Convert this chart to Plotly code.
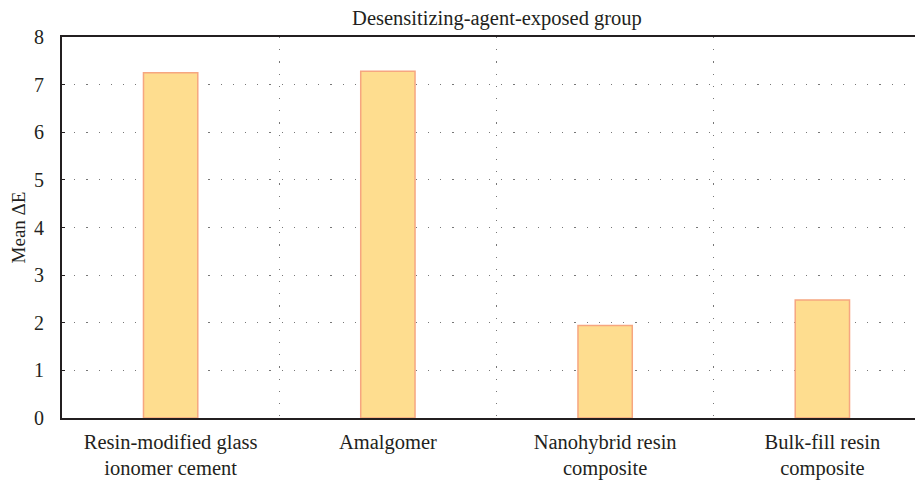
import plotly.graph_objects as go

categories = ["Resin-modified glass<br>ionomer cement", "Amalgomer",
              "Nanohybrid resin<br>composite", "Bulk-fill resin<br>composite"]
mean_delta_e = [7.25, 7.28, 1.94, 2.48]
y_ticks = [0, 1, 2, 3, 4, 5, 6, 7, 8]
positions = list(range(len(categories)))
boundaries = [p + 0.5 for p in positions[:-1]]

FONT = "Liberation Serif, Times New Roman, serif"
INK = "#231F20"

fig = go.Figure(go.Bar(
    x=positions, y=mean_delta_e, width=0.25,
    marker=dict(color="#FEDD8F", line=dict(color="#F6A680", width=1.5)),
))

fig.update_layout(
    width=923, height=481,
    margin=dict(l=54, r=0, t=29, b=71, autoexpand=False),
    plot_bgcolor="white", paper_bgcolor="white",
    showlegend=False,
    font=dict(family=FONT, size=20, color=INK),
    title=dict(text="Desensitizing-agent-exposed group", x=0.5298, xanchor="center",
               y=0.979, yanchor="middle", font=dict(family=FONT, size=20.5, color=INK)),
    xaxis=dict(
        range=[-0.5, 3.5], tickvals=positions, ticktext=categories,
        showgrid=False, zeroline=False, automargin=False,
        showline=True, linecolor=INK, linewidth=2, mirror=True,
        ticks="", tickfont=dict(family=FONT, size=20.5), ticklabelstandoff=4,
        minor=dict(tickvals=boundaries, showgrid=True, gridcolor="#777777",
                   gridwidth=1.2, griddash="1.2px,11px", ticks=""),
    ),
    yaxis=dict(
        range=[0, 8], tickvals=y_ticks, showgrid=True, gridcolor="#777777",
        gridwidth=1.2, griddash="1.2px,11px", zeroline=False, automargin=False,
        showline=True, linecolor=INK, linewidth=2,
        ticks="inside", ticklen=3, tickcolor=INK,
        tickfont=dict(family=FONT, size=20), ticklabelstandoff=12,
        title=dict(text="Mean ΔE", font=dict(family=FONT, size=19), standoff=6),
    ),
)

fig.write_html("out.html")
